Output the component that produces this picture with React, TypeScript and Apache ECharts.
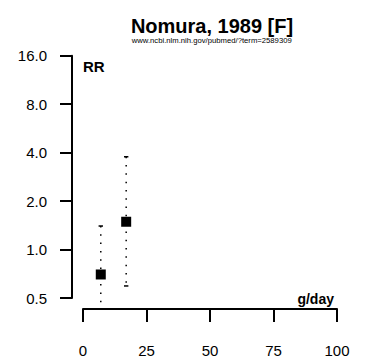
import React, { useEffect, useRef } from "react";
import * as echarts from "echarts";

const doses = [7, 17];
const rr = [0.7, 1.49];
const ciLower = [0.445, 0.594];
const ciUpper = [1.4, 3.77];
const yTickValues = [0.5, 1, 2, 4, 8, 16];
const xTickValues = [0, 25, 50, 75, 100];
const titleText = "Nomura, 1989 [F]";
const subtitleText = "www.ncbi.nlm.nih.gov/pubmed/?term=2589309";
const yLabel = "RR";
const xLabel = "g/day";

const FONT = '"Liberation Sans", Arial, Helvetica, sans-serif';

export default function App() {
  const ref = useRef<HTMLDivElement>(null);
  useEffect(() => {
    const chart = echarts.init(ref.current!, null, { renderer: "svg" });
    const log2 = (v: number) => Math.log2(v);
    const data = doses.map((d, i) => [d, log2(rr[i]), log2(ciLower[i]), log2(ciUpper[i])]);
    const yMin = log2(yTickValues[0]);
    const yMax = log2(yTickValues[yTickValues.length - 1]);
    const xMin = xTickValues[0];
    const xMax = xTickValues[xTickValues.length - 1];
    const xInt = xTickValues[1] - xTickValues[0];
    chart.setOption({
      animation: false,
      grid: { left: 83, right: 36, top: 55.7, bottom: 65 },
      xAxis: {
        type: "value",
        min: xMin,
        max: xMax,
        interval: xInt,
        offset: 11,
        axisLine: { show: true, onZero: false, lineStyle: { color: "#000", width: 2 } },
        axisTick: { show: true, length: 13, lineStyle: { color: "#000", width: 2 } },
        axisLabel: { margin: 34, fontSize: 15, color: "#000", fontFamily: FONT },
        splitLine: { show: false },
      },
      yAxis: {
        type: "value",
        min: yMin,
        max: yMax,
        interval: 1,
        offset: 11,
        axisLine: { show: true, onZero: false, lineStyle: { color: "#000", width: 2 } },
        axisTick: { show: true, inside: false, length: 12, lineStyle: { color: "#000", width: 2 } },
        axisLabel: {
          margin: 25,
          fontSize: 15,
          color: "#000",
          fontFamily: FONT,
          formatter: (v: number) => Math.pow(2, v).toFixed(1),
        },
        splitLine: { show: false },
      },
      series: [
        {
          type: "custom",
          clip: false,
          data,
          renderItem: (params: any, api: any) => {
            const x = api.value(0);
            const y = api.value(1);
            const lo = api.value(2);
            const hi = api.value(3);
            const c = api.coord([x, y]);
            const cl = api.coord([x, lo]);
            const ch = api.coord([x, hi]);
            const children: any[] = [
              {
                type: "line",
                shape: { x1: ch[0], y1: ch[1], x2: cl[0], y2: cl[1] },
                style: { stroke: "#000", lineWidth: 1.5, lineDash: [1.5, 6.8] },
              },
            ];
            [lo, hi].forEach((v, k) => {
              if (v >= yMin && v <= yMax) {
                const p = k === 0 ? cl : ch;
                children.push({
                  type: "line",
                  shape: { x1: p[0] - 2.2, y1: p[1], x2: p[0] + 2.2, y2: p[1] },
                  style: { stroke: "#000", lineWidth: 1.5 },
                });
              }
            });
            children.push({
              type: "rect",
              shape: { x: c[0] - 5, y: c[1] - 5, width: 10, height: 10 },
              style: { fill: "#000" },
            });
            return { type: "group", children };
          },
        },
      ],
      graphic: [
        {
          type: "text",
          x: 212,
          y: 26,
          style: {
            text: titleText,
            font: `bold 20px ${FONT}`,
            fill: "#000",
            align: "center",
            verticalAlign: "middle",
          },
        },
        {
          type: "text",
          x: 211.7,
          y: 40,
          style: {
            text: subtitleText,
            font: `7.7px ${FONT}`,
            fill: "#000",
            align: "center",
            verticalAlign: "middle",
          },
        },
        {
          type: "text",
          x: 83,
          y: 66,
          style: {
            text: yLabel,
            font: `bold 15px ${FONT}`,
            fill: "#000",
            align: "left",
            verticalAlign: "middle",
          },
        },
        {
          type: "text",
          x: 334,
          y: 299,
          style: {
            text: xLabel,
            font: `bold 14px ${FONT}`,
            fill: "#000",
            align: "right",
            verticalAlign: "middle",
          },
        },
      ],
    });
    return () => chart.dispose();
  }, []);
  return (
    <div
      ref={ref}
      style={{ position: "absolute", left: 0, top: 0, width: 373, height: 363 }}
    />
  );
}
